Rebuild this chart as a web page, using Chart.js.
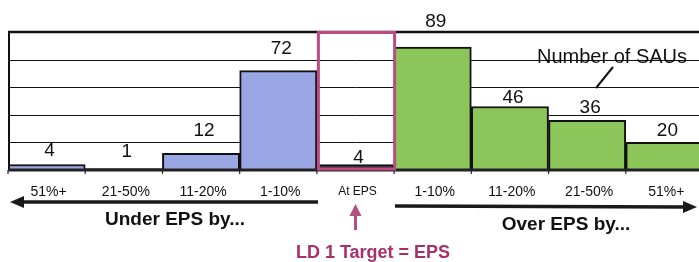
<!DOCTYPE html>
<html>
<head>
<meta charset="utf-8">
<script src="https://cdn.jsdelivr.net/npm/chart.js@4.4.0/dist/chart.umd.min.js"></script>
<style>
  html, body { margin: 0; padding: 0; background: #fff; overflow: hidden; }
  #wrap { width: 706px; height: 262px; }
</style>
</head>
<body>
<div id="wrap"><canvas id="c" width="706" height="262"></canvas></div>
<script>
// ---- data ----
const categories = ["51%+", "21-50%", "11-20%", "1-10%", "At EPS", "1-10%", "11-20%", "21-50%", "51%+"];
const saus = [4, 1, 12, 72, 4, 89, 46, 36, 20];
const groups = ["under", "under", "under", "under", "at", "over", "over", "over", "over"];
const yTicks = [0, 20, 40, 60, 80, 100];
const underTitle = "Under EPS by...";
const overTitle = "Over EPS by...";
const targetText = "LD 1 Target = EPS";
const seriesNote = "Number of SAUs";

// ---- styles ----
const FONT = '"Liberation Sans", Arial, sans-serif';
const groupColor = { under: "#9aa7e4", at: "#2c2c36", over: "#8cc55a" };
const labelGap = [14, 17, 23, 22, 7, 25, 9, 13, 12];
const magenta = "#bd4a82";

const overlay = {
  id: "overlay",
  beforeDatasetsDraw(chart) {
    const { ctx, chartArea: a, scales: { y } } = chart;
    ctx.save();
    ctx.strokeStyle = "#111";
    ctx.lineWidth = 1;
    yTicks.forEach(v => {
      if (v === 0 || v === 100) return;
      const py = Math.round(y.getPixelForValue(v)) + 0.5;
      ctx.beginPath(); ctx.moveTo(a.left, py); ctx.lineTo(a.right, py); ctx.stroke();
    });
    ctx.restore();
  },
  afterDatasetsDraw(chart) {
    const { ctx, chartArea: a, scales: { x, y } } = chart;
    const slot = (a.right - a.left) / categories.length;
    ctx.save();
    // frame
    ctx.strokeStyle = "#111";
    ctx.lineWidth = 2.5;
    ctx.beginPath(); ctx.moveTo(a.left, a.top); ctx.lineTo(a.right, a.top); ctx.stroke();
    ctx.lineWidth = 2;
    ctx.beginPath(); ctx.moveTo(a.left + 1, a.top); ctx.lineTo(a.left + 1, a.bottom); ctx.stroke();
    ctx.strokeStyle = "#222";
    ctx.lineWidth = 3;
    ctx.beginPath(); ctx.moveTo(a.left, a.bottom); ctx.lineTo(a.right, a.bottom); ctx.stroke();
    // tick marks
    ctx.lineWidth = 1.2;
    for (let i = 0; i <= categories.length; i++) {
      const px = a.left + i * slot;
      ctx.beginPath(); ctx.moveTo(px, a.bottom); ctx.lineTo(px, a.bottom + 4); ctx.stroke();
    }
    // magenta box around "At EPS"
    const atIdx = groups.indexOf("at");
    const cx = x.getPixelForValue(atIdx);
    ctx.strokeStyle = magenta;
    ctx.lineWidth = 3;
    ctx.strokeRect(cx - slot / 2 + 1.5, a.top + 0.5, slot - 1, a.bottom - a.top - 1.5);
    // value labels
    ctx.fillStyle = "#111";
    ctx.font = "19px " + FONT;
    ctx.textAlign = "center";
    ctx.textBaseline = "middle";
    saus.forEach((v, i) => {
      ctx.fillText(String(v), x.getPixelForValue(i) + 3, y.getPixelForValue(v) - labelGap[i]);
    });
    // series note
    ctx.font = "20px " + FONT;
    ctx.textBaseline = "alphabetic";
    ctx.textAlign = "left";
    ctx.fillText(seriesNote, 537, 63);
    ctx.lineWidth = 2;
    ctx.strokeStyle = "#111";
    ctx.beginPath(); ctx.moveTo(613, 67); ctx.lineTo(596, 88); ctx.stroke();
    // category labels
    ctx.textAlign = "center";
    ctx.textBaseline = "middle";
    categories.forEach((c, i) => {
      ctx.font = (groups[i] === "at" ? "12px " : "14px ") + FONT;
      ctx.fillStyle = "#111";
      ctx.fillText(c, x.getPixelForValue(i) + 2, 192);
    });
    // arrows
    ctx.strokeStyle = "#1a1a1a";
    ctx.fillStyle = "#1a1a1a";
    ctx.lineWidth = 3.5;
    ctx.beginPath(); ctx.moveTo(20, 202); ctx.lineTo(318, 202); ctx.stroke();
    ctx.beginPath(); ctx.moveTo(10, 202); ctx.lineTo(24, 196); ctx.lineTo(24, 208); ctx.closePath(); ctx.fill();
    ctx.beginPath(); ctx.moveTo(395, 206); ctx.lineTo(686, 207); ctx.stroke();
    ctx.beginPath(); ctx.moveTo(697, 207); ctx.lineTo(683, 201); ctx.lineTo(683, 213); ctx.closePath(); ctx.fill();
    // group titles
    ctx.font = "bold 19px " + FONT;
    ctx.textBaseline = "alphabetic";
    ctx.fillStyle = "#111";
    ctx.fillText(underTitle, 175, 225);
    ctx.fillText(overTitle, 566, 230);
    // target arrow
    ctx.fillStyle = "#b4507f";
    const ax = x.getPixelForValue(atIdx);
    ctx.fillRect(ax - 1.5, 213, 3, 17);
    ctx.beginPath(); ctx.moveTo(ax, 204); ctx.lineTo(ax - 6, 216); ctx.lineTo(ax + 6, 216); ctx.closePath(); ctx.fill();
    // target text
    ctx.fillStyle = "#a8306a";
    ctx.font = "bold 18px " + FONT;
    ctx.fillText(targetText, 373, 258);
    ctx.restore();
  }
};

new Chart(document.getElementById("c"), {
  type: "bar",
  data: {
    labels: categories,
    datasets: [{
      data: saus,
      backgroundColor: groups.map(g => groupColor[g]),
      borderColor: "#111",
      borderWidth: 2,
      borderSkipped: "start",
      barPercentage: 1,
      categoryPercentage: 1
    }]
  },
  options: {
    responsive: false,
    devicePixelRatio: 1,
    animation: false,
    layout: { padding: { left: 8, right: 3, top: 32, bottom: 92 } },
    plugins: { legend: { display: false }, tooltip: { enabled: false } },
    scales: {
      x: { display: false },
      y: { display: false, min: 0, max: 100, ticks: { stepSize: 20 } }
    }
  },
  plugins: [overlay]
});
</script>
</body>
</html>
